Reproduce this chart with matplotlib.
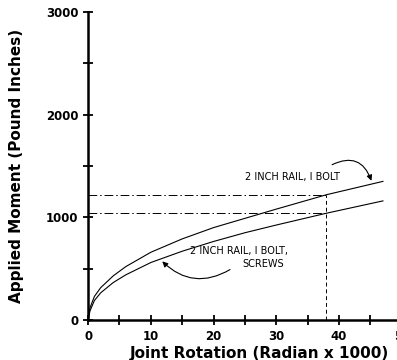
import matplotlib
matplotlib.use("Agg")
import matplotlib.pyplot as plt

rot = [0, 0.3, 1, 2, 4, 6, 10, 15, 20, 25, 30, 38, 47]
bolt = [0, 120, 230, 315, 430, 520, 660, 790, 900, 990, 1080, 1220, 1350]
bolt_screws = [0, 90, 190, 265, 365, 440, 560, 670, 765, 850, 925, 1040, 1160]

x_mark = 38
y_marks = [1220, 1040]

plt.rcParams["font.family"] = ["DejaVu Sans"]
fig = plt.figure(figsize=(3.97, 3.6), dpi=100)
ax = fig.add_axes([0.222, 0.111, 0.79, 0.856])

ax.plot(rot, bolt, color="black", lw=0.8)
ax.plot(rot, bolt_screws, color="black", lw=0.8)

for y in y_marks:
    ax.plot([0, x_mark], [y, y], color="black", lw=0.7, ls=(0, (9, 3, 1.5, 3)))
ax.plot([x_mark, x_mark], [0, y_marks[0]], color="black", lw=0.7, ls=(0, (4, 3)))

ax.text(25, 1340, "2 INCH RAIL, I BOLT", fontsize=7, ha="left", va="bottom")
ax.annotate("", xy=(45.3, 1330), xytext=(38.5, 1500),
            arrowprops=dict(arrowstyle="-|>", color="black", lw=0.8,
                            connectionstyle="arc3,rad=-0.6", mutation_scale=8))
ax.text(16.2, 670, "2 INCH RAIL, I BOLT,", fontsize=7, ha="left", va="center")
ax.text(31.2, 545, "SCREWS", fontsize=7, ha="right", va="center")
ax.annotate("", xy=(11.5, 590), xytext=(23, 505),
            arrowprops=dict(arrowstyle="-|>", color="black", lw=0.8,
                            connectionstyle="arc3,rad=-0.4", mutation_scale=8))

ax.set_xlim(0, 49.5)
ax.set_ylim(0, 3000)
ax.spines["top"].set_visible(False)
ax.spines["right"].set_visible(False)
ax.spines["left"].set_linewidth(1.8)
ax.spines["bottom"].set_linewidth(1.8)

ax.set_xticks(range(0, 51, 5))
ax.set_xticklabels(["0", "", "10", "", "20", "", "30", "", "40", "", "50"])
ax.set_yticks(range(0, 3001, 500))
ax.set_yticklabels(["0", "", "1000", "", "2000", "", "3000"])
ax.tick_params(direction="inout", length=7, width=1.3, labelsize=8.5)
for lab in ax.get_xticklabels() + ax.get_yticklabels():
    lab.set_fontweight("bold")

ax.set_xlabel("Joint Rotation (Radian x 1000)", fontsize=11, fontweight="bold")
ax.set_ylabel("Applied Moment (Pound Inches)", fontsize=11, fontweight="bold")
ax.xaxis.set_label_coords(0.545, -0.085)
ax.yaxis.set_label_coords(-0.205, 0.5)

fig.savefig("out.png", dpi=100)
